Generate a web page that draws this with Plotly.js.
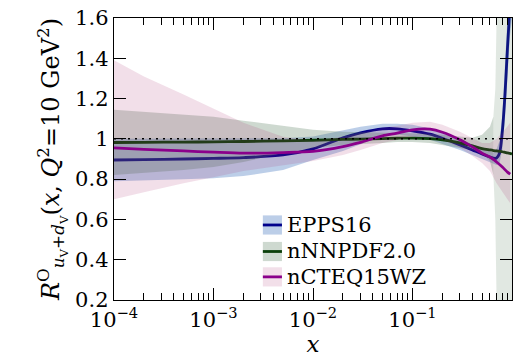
<!DOCTYPE html>
<html>
<head>
<meta charset="utf-8">
<script src="https://cdn.plot.ly/plotly-3.0.1.min.js"></script>
<style>
  html, body { margin: 0; padding: 0; background: #fff; }
  #chart { width: 516px; height: 357px; }
</style>
</head>
<body>
<div id="chart"></div>
<script>
// Momentum fractions x where the ratios are sampled
const xVals = [1e-4, 2e-4, 5e-4, 1e-3, 2e-3, 5e-3, 1e-2, 2e-2, 3e-2, 5e-2, 7e-2,
               0.1, 0.15, 0.2, 0.3, 0.4, 0.5, 0.6, 0.65, 0.7, 0.75, 0.8, 0.85, 0.9, 0.95, 1.0];

// EPPS16: central value and uncertainty band
const eppsCentral = [0.895, 0.897, 0.900, 0.903, 0.907, 0.920, 0.950, 1.005, 1.030, 1.050, 1.050,
                     1.040, 1.023, 1.003, 0.970, 0.945, 0.925, 0.910, 0.904, 0.905, 0.930, 1.040, 1.220, 1.450, 1.650, 1.900];
const eppsLow     = [0.790, 0.795, 0.800, 0.805, 0.815, 0.845, 0.895, 0.940, 0.975, 1.015, 1.022,
                     1.012, 0.995, 0.975, 0.945, 0.920, 0.900, 0.885, 0.877, 0.870, 0.880, 0.950, 1.100, 1.300, 1.500, 1.600];
const eppsHigh    = [1.000, 1.000, 1.003, 1.003, 1.003, 1.003, 1.012, 1.042, 1.060, 1.075, 1.075,
                     1.070, 1.052, 1.032, 0.997, 0.972, 0.952, 0.937, 0.932, 0.950, 0.990, 1.120, 1.350, 1.600, 1.600, 1.600];

// nNNPDF2.0 central value
const nnpdfCentral = [0.982, 0.983, 0.984, 0.985, 0.987, 0.990, 0.993, 0.997, 0.999, 1.001, 1.003,
                      1.004, 1.001, 0.995, 0.980, 0.965, 0.952, 0.945, 0.942, 0.940, 0.938, 0.936, 0.933, 0.930, 0.928, 0.925];
// nNNPDF2.0 band up to the large-x blow-up
const nnpdfBandX   = [1e-4, 2e-4, 5e-4, 1e-3, 2e-3, 5e-3, 1e-2, 2e-2, 3e-2, 5e-2, 7e-2,
                      0.1, 0.15, 0.2, 0.3, 0.4, 0.5, 0.6, 0.65];
const nnpdfLow     = [0.820, 0.830, 0.845, 0.860, 0.885, 0.930, 0.955, 0.970, 0.975, 0.980, 0.985,
                      0.985, 0.980, 0.970, 0.955, 0.945, 0.930, 0.890, 0.820];
const nnpdfHigh    = [1.145, 1.135, 1.120, 1.110, 1.090, 1.065, 1.045, 1.035, 1.033, 1.030, 1.030,
                      1.030, 1.025, 1.020, 1.010, 1.005, 1.020, 1.060, 1.110];
// nNNPDF2.0 band where the replicas spread over the whole range
const nnpdfFlareX    = [0.65, 0.68, 0.7, 0.8, 0.9, 1.0];
const nnpdfFlareLow  = [0.820, 0.600, 0.200, 0.200, 0.200, 0.200];
const nnpdfFlareHigh = [1.110, 1.250, 1.600, 1.600, 1.600, 1.600];

// nCTEQ15WZ
const ncteqX       = [1e-4, 2e-4, 5e-4, 1e-3, 2e-3, 5e-3, 1e-2, 2e-2, 3e-2, 5e-2, 7e-2,
                      0.1, 0.15, 0.2, 0.3, 0.4, 0.5, 0.6, 0.7, 0.8, 0.9, 0.96];
const ncteqCentral = [0.955, 0.948, 0.940, 0.934, 0.929, 0.932, 0.938, 0.962, 0.983, 1.015, 1.028,
                      1.045, 1.048, 1.033, 0.995, 0.960, 0.929, 0.910, 0.885, 0.860, 0.835, 0.825];
const ncteqLow     = [0.700, 0.735, 0.780, 0.810, 0.840, 0.870, 0.890, 0.920, 0.945, 0.980, 0.995,
                      1.010, 1.010, 0.995, 0.955, 0.915, 0.880, 0.840, 0.780, 0.740, 0.700, 0.680];
const ncteqHigh    = [1.390, 1.310, 1.220, 1.150, 1.080, 1.010, 0.990, 1.010, 1.030, 1.055, 1.065,
                      1.080, 1.085, 1.070, 1.035, 1.005, 0.980, 0.980, 1.000, 1.030, 1.060, 1.080];

// Reference line R = 1
const unityX = [1e-4, 1];
const unityY = [1, 1];

// Axis ticks
const xMajor = [1e-4, 1e-3, 1e-2, 1e-1, 1];
const xMajorText = ['10<sup>\u22124</sup>', '10<sup>\u22123</sup>', '10<sup>\u22122</sup>', '10<sup>\u22121</sup>', '1'];
const xMinor = [];
for (let e = -4; e < 0; e++) {
  for (let m = 2; m <= 9; m++) xMinor.push(m * Math.pow(10, e));
}

const EPPS_LINE = '#00008b', EPPS_FILL = 'rgba(70,120,190,0.36)';
const NNPDF_LINE = '#0b400b', NNPDF_FILL = 'rgba(80,120,85,0.28)', NNPDF_FLARE = 'rgba(80,120,85,0.17)';
const NCTEQ_LINE = '#8b008b', NCTEQ_FILL = 'rgba(170,40,110,0.15)';

function band(x, lo, hi, fill) {
  // closed outline: upper edge left-to-right, lower edge back
  return { x: x.concat(x.slice().reverse()), y: hi.concat(lo.slice().reverse()),
           mode: 'lines', fill: 'toself', fillcolor: fill,
           line: { width: 0, color: 'rgba(0,0,0,0)' }, hoverinfo: 'skip', showlegend: false };
}
function central(x, y, color, name) {
  return { x: x, y: y, mode: 'lines', name: name,
           line: { color: color, width: 2.8, shape: 'spline', smoothing: 0.8 }, showlegend: false };
}

const traces = [
  band(xVals, eppsLow, eppsHigh, EPPS_FILL),
  central(xVals, eppsCentral, EPPS_LINE, 'EPPS16'),
  band(nnpdfBandX, nnpdfLow, nnpdfHigh, NNPDF_FILL),
  band(nnpdfFlareX, nnpdfFlareLow, nnpdfFlareHigh, NNPDF_FLARE),
  central(xVals, nnpdfCentral, NNPDF_LINE, 'nNNPDF2.0'),
  band(ncteqX, ncteqLow, ncteqHigh, NCTEQ_FILL),
  central(ncteqX, ncteqCentral, NCTEQ_LINE, 'nCTEQ15WZ'),
  { x: unityX, y: unityY, mode: 'lines', line: { color: '#000', width: 1.5, dash: '2px,5px' },
    hoverinfo: 'skip', showlegend: false }
];

const FONT = 'DejaVu Serif';

// Legend drawn as swatches (band colour with the central line across it)
const legendItems = [
  { name: 'EPPS16',    line: EPPS_LINE,  fill: EPPS_FILL,  y: 0.266 },
  { name: 'nNNPDF2.0', line: NNPDF_LINE, fill: NNPDF_FILL, y: 0.172 },
  { name: 'nCTEQ15WZ', line: NCTEQ_LINE, fill: NCTEQ_FILL, y: 0.082 }
];
const shapes = [];
const annotations = [];
legendItems.forEach(s => {
  shapes.push({ type: 'rect', xref: 'paper', yref: 'paper', x0: 0.374, x1: 0.422,
                y0: s.y - 0.034, y1: s.y + 0.034, fillcolor: s.fill, line: { width: 0 } });
  shapes.push({ type: 'line', xref: 'paper', yref: 'paper', x0: 0.374, x1: 0.422,
                y0: s.y, y1: s.y, line: { color: s.line, width: 2.8 } });
  annotations.push({ xref: 'paper', yref: 'paper', x: 0.43, y: s.y, xanchor: 'left', yanchor: 'middle',
                     text: s.name, showarrow: false, font: { family: FONT, size: 21, color: '#000' } });
});

const tickFont = { family: FONT, size: 21, color: '#000' };

const layout = {
  width: 516, height: 357,
  margin: { l: 114, r: 4, t: 18, b: 57 },
  paper_bgcolor: '#fff', plot_bgcolor: '#fff',
  showlegend: false,
  font: { family: FONT, size: 21, color: '#000' },
  xaxis: {
    type: 'log', range: [-4, 0],
    tickmode: 'array', tickvals: xMajor, ticktext: xMajorText,
    ticks: 'inside', ticklen: 12, tickwidth: 1, tickcolor: '#000',
    minor: { tickmode: 'array', tickvals: xMinor, ticks: 'inside', ticklen: 7, tickwidth: 1, tickcolor: '#000', showgrid: false },
    showline: true, linecolor: '#000', linewidth: 1.3, mirror: 'allticks',
    showgrid: false, zeroline: false,
    tickfont: tickFont,
    title: { text: '<i>x</i>', font: { family: FONT, size: 23, color: '#000' }, standoff: 0 }
  },
  yaxis: {
    range: [0.2, 1.6], dtick: 0.2, tick0: 0.2,
    ticks: 'inside', ticklen: 12, tickwidth: 1, tickcolor: '#000',
    showline: true, linecolor: '#000', linewidth: 1.3, mirror: 'allticks',
    showgrid: false, zeroline: false,
    tickfont: tickFont,
    title: {
      text: '<i>R</i><sup>O</sup><sub><i>u</i><sub>V</sub>+<i>d</i><sub>V</sub></sub>(<i>x</i>, <i>Q</i><sup>2</sup>=10 GeV<sup>2</sup>)',
      font: { family: FONT, size: 24, color: '#000' }, standoff: 8
    }
  },
  shapes: shapes,
  annotations: annotations
};

Plotly.newPlot('chart', traces, layout, { displayModeBar: false, staticPlot: true });
</script>
</body>
</html>
